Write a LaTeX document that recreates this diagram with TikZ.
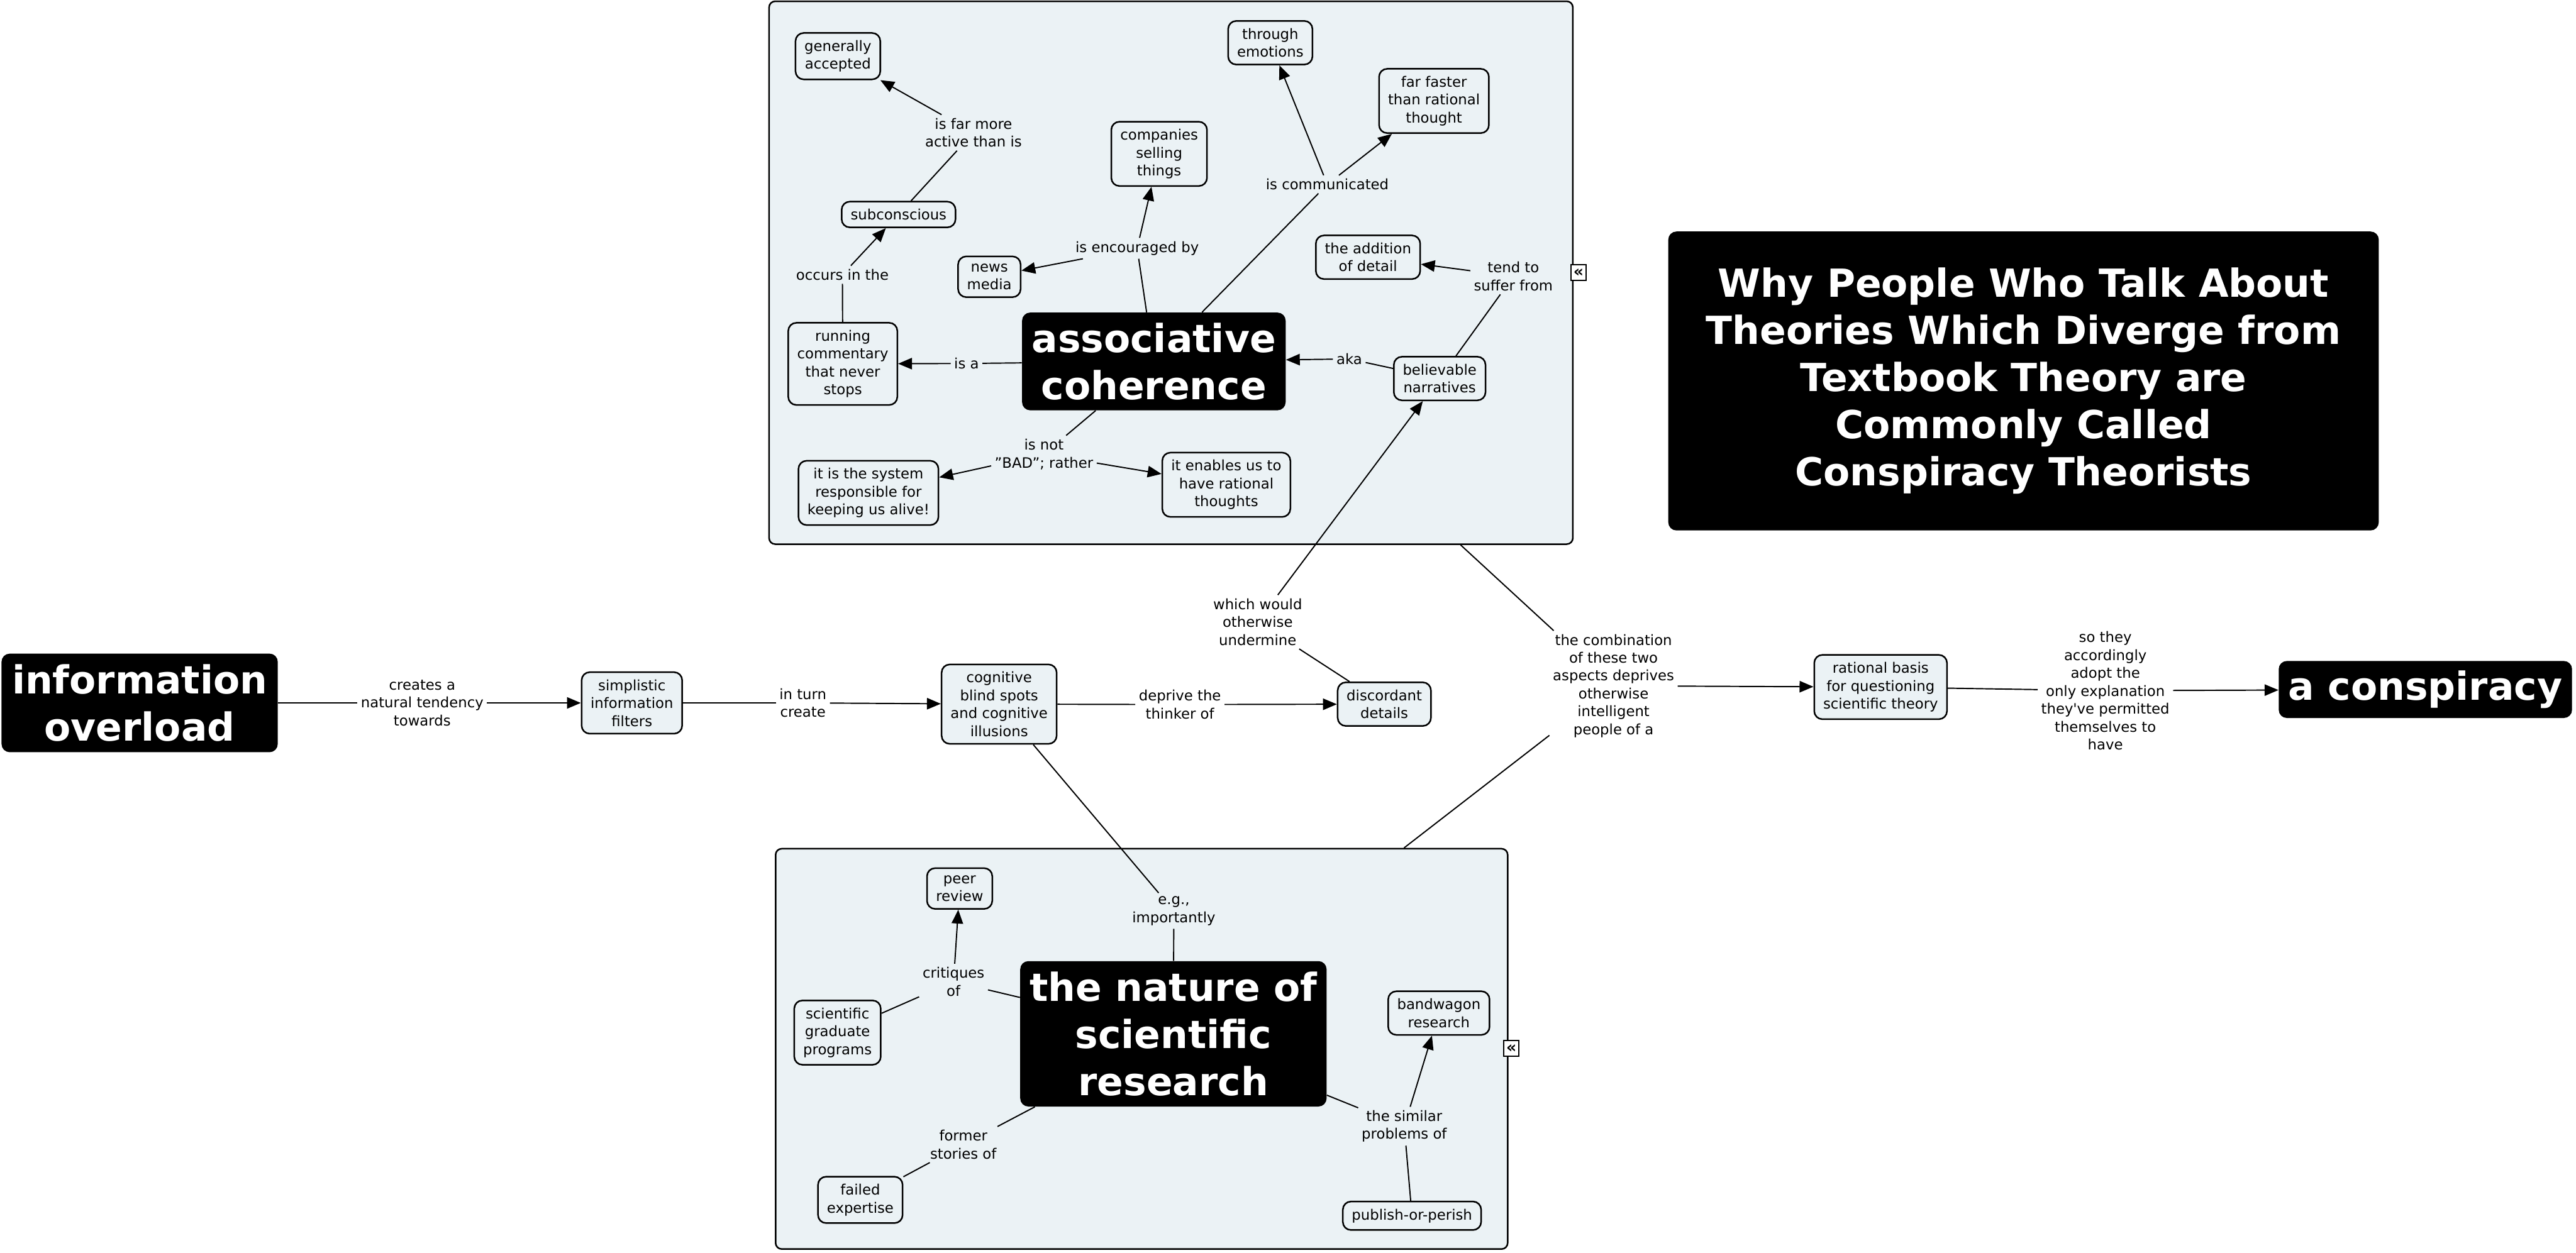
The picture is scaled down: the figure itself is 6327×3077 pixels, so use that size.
\documentclass[tikz,border=0pt]{standalone}
\usepackage{fontspec}
\setmainfont{DejaVu Sans}
\usetikzlibrary{arrows.meta, positioning}
\definecolor{cmFill}{HTML}{EBF2F5}
\definecolor{cmInk}{HTML}{000000}
\tikzset{
  concept/.style={
    draw=cmInk, rounded corners=2mm, fill=cmFill, line width=1.1pt,
    font=\fontsize{10}{12.5}\selectfont, align=center, inner xsep=2.2mm, inner ysep=1.8mm
  },
  bigconcept/.style={
    fill=cmInk, text=white, rounded corners=2mm, align=center,
    font=\fontsize{27}{33}\selectfont\bfseries, inner sep=1.5mm
  },
  phrase/.style={font=\fontsize{10}{12.5}\selectfont, align=center, inner sep=0.8mm},
  cluster/.style={draw=cmInk, rounded corners=1.5mm, fill=cmFill, line width=1.1pt},
  collapse/.style={draw=cmInk, fill=white, line width=0.9pt, minimum size=3.8mm, inner sep=0pt,
    font=\fontsize{11}{11}\selectfont\bfseries},
  link/.style={line width=0.85pt, cmInk},
  arr/.style={link, -{Triangle[length=3.4mm, width=2.8mm]}}
}

\begin{document}
\begin{tikzpicture}[x=0.01cm, y=-0.01cm]
  \useasboundingbox (0,0) rectangle (6327,3077);

  % clusters
  \node[cluster, minimum width=19.73cm, minimum height=13.33cm] (topframe) at (2876,670) {};
  \node[cluster, minimum width=17.97cm, minimum height=9.83cm] (botframe) at (2804,2577) {};
  \node[collapse] (topfold) at (3877,670) {«};
  \node[collapse] (botfold) at (3712,2576) {«};

  % associative coherence cluster
  \node[bigconcept, minimum width=6.47cm, minimum height=2.4cm] (ac) at (2834,888) {associative\\coherence};
  \node[concept] (gen) at (2058,138) {generally\\accepted};
  \node[concept] (subc) at (2207,527) {subconscious};
  \node[concept] (run) at (2070,894) {running\\commentary\\that never\\stops};
  \node[concept] (news) at (2430,680) {news\\media};
  \node[concept] (comp) at (2847,378) {companies\\selling\\things};
  \node[concept] (emo) at (3120,105) {through\\emotions};
  \node[concept] (fast) at (3522,248) {far faster\\than rational\\thought};
  \node[concept] (det) at (3360,632) {the addition\\of detail};
  \node[concept] (bel) at (3536,930) {believable\\narratives};
  \node[concept] (sys) at (2133,1211) {it is the system\\responsible for\\keeping us alive!};
  \node[concept] (rat) at (3012,1191) {it enables us to\\have rational\\thoughts};

  \node[phrase] (lfar) at (2391,326) {is far more\\active than is};
  \node[phrase] (locc) at (2069,675) {occurs in the};
  \node[phrase] (lisa) at (2374,893) {is a};
  \node[phrase] (lenc) at (2793,610) {is encouraged by};
  \node[phrase] (lcom) at (3260,453) {is communicated};
  \node[phrase] (ltend) at (3717,679) {tend to\\suffer from};
  \node[phrase] (laka) at (3314,882) {aka};
  \node[phrase] (lnot) at (2564,1116) {is not\\\symbol{34}BAD\symbol{34}; rather};

  % main chain
  \node[bigconcept, minimum width=6.78cm, minimum height=2.42cm] (info) at (343,1727) {information\\overload};
  \node[phrase] (lcreate) at (1037,1727) {creates a\\natural tendency\\towards};
  \node[concept] (filt) at (1552,1727) {simplistic\\information\\filters};
  \node[phrase] (lturn) at (1972,1727) {in turn\\create};
  \node[concept] (cog) at (2454,1730) {cognitive\\blind spots\\and cognitive\\illusions};
  \node[phrase] (ldep) at (2898,1731) {deprive the\\thinker of};
  \node[concept] (disc) at (3400,1730) {discordant\\details};
  \node[phrase] (lund) at (3089,1528) {which would\\otherwise\\undermine};
  \node[phrase] (lcomb) at (3963,1685) {the combination\\of these two\\aspects deprives\\otherwise\\intelligent\\people of a};
  \node[concept] (basis) at (4619,1688) {rational basis\\for questioning\\scientific theory};
  \node[phrase] (lso) at (5171,1697) {so they\\accordingly\\adopt the\\only explanation\\they\textquotesingle ve permitted\\themselves to\\have};
  \node[bigconcept, minimum width=7.2cm, minimum height=1.4cm] (consp) at (5957,1694) {a conspiracy};

  % title
  \node[bigconcept, minimum width=17.44cm, minimum height=7.34cm] (title) at (4970,936)
    {Why People Who Talk About\\Theories Which Diverge from\\Textbook Theory are\\Commonly Called\\Conspiracy Theorists};

  % scientific research cluster
  \node[bigconcept, minimum width=7.52cm, minimum height=3.57cm] (nat) at (2882,2540) {the nature of\\scientific\\research};
  \node[concept] (peer) at (2357,2183) {peer\\review};
  \node[concept] (grad) at (2057,2537) {scientific\\graduate\\programs};
  \node[concept] (failed) at (2113,2948) {failed\\expertise};
  \node[concept] (band) at (3534,2489) {bandwagon\\research};
  \node[concept] (pub) at (3468,2987) {publish-or-perish};

  \node[phrase] (leg) at (2883,2238) {e.g.,\\importantly};
  \node[phrase] (lcrit) at (2342,2412) {critiques\\of};
  \node[phrase] (lformer) at (2366,2812) {former\\stories of};
  \node[phrase] (lsim) at (3449,2767) {the similar\\problems of};

  % links
  \draw[link] (ac) -- (lisa);
  \draw[arr] (lisa) -- (run);
  \draw[link] (run) -- (locc);
  \draw[arr] (locc) -- (subc);
  \draw[link] (subc) -- (lfar);
  \draw[arr] (lfar) -- (gen);
  \draw[link] (ac) -- (lenc);
  \draw[arr] (lenc) -- (news);
  \draw[arr] (lenc) -- (comp);
  \draw[link] (ac) -- (lcom);
  \draw[arr] (lcom) -- (emo);
  \draw[arr] (lcom) -- (fast);
  \draw[link] (bel) -- (laka);
  \draw[arr] (laka) -- (ac);
  \draw[link] (bel) -- (ltend);
  \draw[arr] (ltend) -- (det);
  \draw[link] (ac) -- (lnot);
  \draw[arr] (lnot) -- (sys);
  \draw[arr] (lnot) -- (rat);

  \draw[link] (info) -- (lcreate);
  \draw[arr] (lcreate) -- (filt);
  \draw[link] (filt) -- (lturn);
  \draw[arr] (lturn) -- (cog);
  \draw[link] (cog) -- (ldep);
  \draw[arr] (ldep) -- (disc);
  \draw[link] (disc) -- (lund);
  \draw[arr] (lund) -- (bel);
  \draw[link] (cog) -- (leg);
  \draw[link] (leg) -- (nat);

  \draw[link] (nat) -- (lcrit);
  \draw[link] (grad) -- (lcrit);
  \draw[arr] (lcrit) -- (peer);
  \draw[link] (nat) -- (lformer);
  \draw[link] (lformer) -- (failed);
  \draw[link] (nat) -- (lsim);
  \draw[link] (pub) -- (lsim);
  \draw[arr] (lsim) -- (band);

  \draw[link] ([xshift=7.11cm]topframe.south) -- (lcomb);
  \draw[link] ([xshift=6.44cm]botframe.north) -- (lcomb);
  \draw[arr] (lcomb) -- (basis);
  \draw[link] (basis) -- (lso);
  \draw[arr] (lso) -- (consp);
\end{tikzpicture}
\end{document}
